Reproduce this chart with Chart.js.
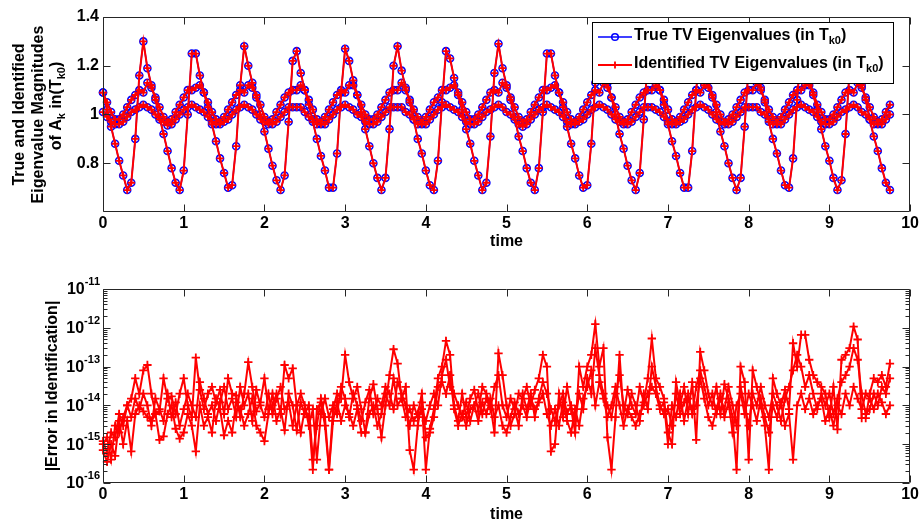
<!DOCTYPE html>
<html><head><meta charset="utf-8">
<script src="https://cdn.jsdelivr.net/npm/chart.js@4.4.0/dist/chart.umd.min.js"></script>
<style>
html,body{margin:0;padding:0;background:#fff;width:921px;height:525px;overflow:hidden;position:relative}
canvas{display:block;position:absolute;left:0}
#c1{top:0}#c2{top:251px}
</style></head>
<body>
<canvas id="c1" width="921" height="251"></canvas>
<canvas id="c2" width="921" height="274"></canvas>
<script>
// ---------- DATA ----------
const time = Array.from({length:196},(_,i)=>+(i*0.05).toFixed(2));
const xTicks = [0,1,2,3,4,5,6,7,8,9,10];
const yTicksTop = [0.8,1,1.2,1.4];
const yTicksBottom = [1e-16,1e-15,1e-14,1e-13,1e-12,1e-11];

// eigenvalue magnitudes (true = identified)
const eigA = [1.09,1.02,0.95,0.88,0.81,0.75,0.69,0.72,0.90,1.16,
1.30,1.19,1.12,1.06,0.99,0.92,0.85,0.78,0.72,0.69,
0.77,1.00,1.25,1.25,1.16,1.09,1.03,0.96,0.89,0.82,
0.76,0.70,0.71,0.87,1.12,1.28,1.20,1.13,1.07,1.00,
0.93,0.86,0.79,0.73,0.69,0.75,0.97,1.22,1.26,1.17,
1.10,1.04,0.97,0.90,0.83,0.77,0.70,0.70,0.84,1.09,
1.27,1.22,1.14,1.08,1.01,0.94,0.87,0.80,0.74,0.69,
0.74,0.94,1.20,1.28,1.18,1.11,1.05,0.98,0.90,0.84,
0.77,0.71,0.69,0.81,1.05,1.26,1.23,1.15,1.08,1.02,
0.94,0.88,0.81,0.75,0.69,0.72,0.91,1.17,1.29,1.19,
1.12,1.06,0.99,0.91,0.85,0.78,0.72,0.69,0.78,1.01,
1.25,1.25,1.16,1.09,1.03,0.95,0.88,0.82,0.75,0.70,
0.71,0.88,1.13,1.29,1.20,1.13,1.07,1.00,0.92,0.86,
0.79,0.73,0.69,0.76,0.98,1.23,1.26,1.17,1.10,1.04,
0.96,0.89,0.83,0.76,0.70,0.70,0.85,1.10,1.28,1.21,
1.14,1.07,1.01,0.93,0.87,0.80,0.74,0.69,0.74,0.95,
1.20,1.27,1.18,1.11,1.05,0.97,0.90,0.84,0.77,0.71,
0.70,0.82,1.06,1.27,1.23,1.15,1.08,1.02,0.94,0.87,
0.81,0.74,0.69,0.73,0.92,1.18,1.29,1.19,1.12,1.06,
0.98,0.91,0.85,0.78,0.72,0.69];
const eigB = [1.09,1.05,1.01,0.98,0.98,1.00,1.03,1.06,1.08,1.10,
1.09,1.13,1.11,1.07,1.03,0.99,0.97,0.98,1.01,1.04,
1.07,1.10,1.10,1.11,1.12,1.09,1.05,1.01,0.98,0.97,
0.99,1.02,1.05,1.08,1.10,1.09,1.12,1.11,1.08,1.04,
0.99,0.97,0.98,1.01,1.04,1.07,1.09,1.10,1.10,1.12,
1.10,1.06,1.02,0.98,0.97,0.99,1.02,1.05,1.08,1.10,
1.09,1.12,1.12,1.08,1.04,1.00,0.98,0.98,1.00,1.03,
1.06,1.09,1.10,1.10,1.13,1.10,1.06,1.02,0.99,0.97,
0.99,1.02,1.05,1.07,1.10,1.10,1.11,1.12,1.09,1.05,
1.01,0.98,0.98,1.00,1.03,1.06,1.09,1.10,1.09,1.13,
1.11,1.07,1.03,0.99,0.97,0.98,1.01,1.04,1.07,1.10,
1.10,1.11,1.12,1.09,1.05,1.01,0.98,0.97,0.99,1.02,
1.05,1.08,1.10,1.09,1.13,1.11,1.07,1.03,0.99,0.97,
0.98,1.01,1.04,1.07,1.09,1.10,1.10,1.12,1.10,1.06,
1.02,0.98,0.97,0.99,1.02,1.05,1.08,1.10,1.09,1.12,
1.11,1.08,1.04,1.00,0.97,0.98,1.00,1.03,1.06,1.09,
1.10,1.10,1.13,1.10,1.06,1.02,0.99,0.97,0.99,1.02,
1.05,1.08,1.10,1.10,1.12,1.12,1.09,1.04,1.01,0.98,
0.98,1.00,1.03,1.06,1.09,1.10,1.09,1.13,1.11,1.07,
1.03,0.99,0.97,0.98,1.01,1.04];
const eigC = [1.01,0.99,0.97,0.96,0.96,0.97,0.99,1.01,1.02,1.03,
1.04,1.03,1.02,1.00,0.98,0.97,0.955,0.96,0.98,1.00,
1.02,1.03,1.04,1.03,1.02,1.01,0.99,0.97,0.96,0.96,
0.97,0.98,1.00,1.02,1.03,1.04,1.03,1.02,1.00,0.98,
0.97,0.96,0.96,0.97,0.99,1.01,1.03,1.03,1.03,1.03,
1.01,0.99,0.98,0.96,0.96,0.96,0.98,1.00,1.02,1.03,
1.04,1.03,1.02,1.00,0.99,0.97,0.96,0.96,0.97,0.99,
1.01,1.03,1.03,1.03,1.03,1.01,1.00,0.98,0.96,0.96,
0.96,0.98,1.00,1.02,1.03,1.04,1.03,1.02,1.01,0.99,
0.97,0.96,0.96,0.97,0.99,1.01,1.02,1.03,1.04,1.03,
1.01,1.00,0.98,0.96,0.95,0.96,0.98,1.00,1.02,1.03,
1.04,1.03,1.02,1.01,0.99,0.97,0.96,0.96,0.97,0.98,
1.00,1.02,1.03,1.04,1.03,1.02,1.00,0.98,0.97,0.96,
0.96,0.97,0.99,1.01,1.03,1.03,1.03,1.02,1.01,0.99,
0.97,0.96,0.96,0.97,0.98,1.00,1.02,1.03,1.04,1.03,
1.02,1.00,0.98,0.97,0.96,0.96,0.97,0.99,1.01,1.03,
1.03,1.03,1.03,1.01,1.00,0.98,0.96,0.96,0.96,0.98,
1.00,1.02,1.03,1.04,1.03,1.02,1.01,0.99,0.97,0.96,
0.96,0.97,0.99,1.01,1.02,1.03,1.04,1.03,1.01,1.00,
0.98,0.96,0.96,0.96,0.98,1.00];

// identification errors
const err1 = [1e-15,1.5e-15,4e-16,3e-15,2e-15,5e-15,1e-14,1.5e-14,5e-14,2e-14,
8e-14,1.1e-13,2e-14,6e-15,7e-15,5e-14,1.5e-14,1.7e-14,6e-15,2e-14,
5e-14,1e-14,5e-15,1.7e-13,2.5e-14,8e-15,2e-14,3e-14,1.2e-14,2.5e-14,
6e-15,5e-14,2e-14,1.8e-14,5e-15,2e-14,1.3e-13,3e-14,7e-15,1.2e-14,
5e-14,8e-15,1e-14,2e-14,6e-15,1.1e-13,5e-14,9e-14,1e-14,2e-15,
8e-15,5e-15,2.2e-16,8e-15,1.2e-14,3e-15,2.2e-16,8e-15,2e-14,1.5e-14,
2e-13,4e-14,1.5e-14,3e-14,8e-15,2e-15,1.5e-14,3.5e-14,8e-15,1.5e-15,
1e-14,6e-14,2.8e-13,1.2e-13,1.5e-14,3e-14,7e-16,2.2e-16,3e-15,1.2e-14,
2.2e-16,2.5e-15,8e-15,5e-14,1e-13,4.6e-13,2e-13,1e-14,4e-15,2e-14,
5e-15,1.5e-14,2.5e-14,7e-15,3e-14,2e-14,1e-14,2e-15,2.2e-13,6e-14,
1e-14,3e-15,6e-15,2e-14,1.5e-14,3e-14,1e-14,2.5e-14,5e-14,2e-13,
1e-13,6.5e-16,1e-15,2e-14,5e-15,3e-14,8e-15,2e-15,1e-13,3e-14,
1e-13,2e-13,1.25e-12,1e-13,3e-13,1.5e-15,2.2e-16,5e-15,2e-13,6e-15,
2.5e-14,1e-14,6e-15,3e-14,1.2e-14,5e-14,5.3e-13,5e-14,3e-14,1.5e-14,
2e-15,1e-15,4e-14,1e-14,3e-14,6e-15,4e-14,1.3e-15,2.4e-13,8e-14,
2e-14,1e-14,3e-14,6e-15,3.5e-14,1.5e-14,5e-15,2.2e-16,1e-13,4e-14,
4e-16,8e-14,3e-14,1e-14,3e-15,2.2e-16,5e-14,2e-14,1e-14,2.5e-14,
8e-15,4e-13,1e-13,6.6e-13,6.6e-13,1.5e-13,6e-14,4e-14,3e-14,2e-14,
5e-15,3e-14,2.4e-15,1.5e-13,2e-13,3e-13,1.07e-12,5e-13,4.7e-15,4.7e-15,
2e-14,5e-14,4e-14,6e-14,3e-14,1.2e-13];
const err2 = [7e-16,3.5e-16,1e-15,5e-16,4e-15,1e-15,4e-15,6.5e-16,6e-15,1e-14,
7e-15,5e-15,4e-15,6e-15,1.3e-15,1.6e-15,6e-15,1e-14,2.5e-15,1.4e-15,
2e-15,6e-15,3e-15,6.5e-16,1e-14,3e-15,5e-15,2e-15,1.5e-14,8e-15,
1.7e-15,4e-15,2e-15,1.2e-14,8e-15,3e-15,6e-15,1.5e-14,3e-15,2e-15,
1.2e-15,6e-15,2e-14,4e-15,8e-15,2.3e-15,2e-14,1e-14,2.3e-15,1.2e-14,
6e-15,1e-14,4e-16,3e-15,1.5e-14,5e-15,2.2e-16,4e-15,1.2e-14,4e-15,
1e-14,6e-15,3e-15,8e-15,2e-15,2e-15,6e-15,1e-14,3e-15,6e-15,
2e-14,1e-14,5e-14,1e-14,1.5e-14,5e-15,8e-15,4e-15,6e-15,2e-14,
1.5e-15,2e-15,5e-15,3e-14,4e-14,2e-14,6e-14,8e-15,3e-15,6e-15,
3e-15,8e-15,1e-14,4e-15,1.2e-14,6e-15,1.5e-14,5e-15,1e-14,3e-15,
2e-15,5e-15,1.2e-14,6e-15,1e-14,5e-15,1.5e-14,8e-15,1.2e-14,2e-14,
6e-15,3e-15,8e-15,3e-15,1.2e-14,4e-15,2e-15,8e-15,3e-15,1.5e-14,
3e-14,8e-14,1e-14,4e-14,1.5e-14,5e-15,1e-14,3e-14,1e-14,3e-15,
8e-15,5e-15,3e-15,6e-15,1e-14,2e-14,3e-14,2e-14,8e-15,1.2e-14,
1e-15,1e-14,5e-15,2e-14,4e-15,1.5e-14,8e-15,1e-14,5e-14,1.5e-14,
5e-15,3e-15,8e-15,2e-14,5e-15,1.2e-14,2e-15,1e-14,2e-14,6e-15,
2e-14,1e-14,4e-15,1.5e-14,5e-15,2e-15,1e-14,5e-15,1.2e-14,3e-15,
6e-15,4e-16,1e-14,2e-14,8e-15,1.5e-14,6e-15,1e-14,1.5e-14,4e-15,
8e-15,3e-15,1e-14,6e-15,2e-14,1e-14,3e-14,1.5e-14,8e-15,2e-14,
1.5e-14,8e-15,2e-14,1.2e-14,6e-15,1e-14];
const err3 = [1.2e-15,6e-16,2e-15,1.5e-15,6e-15,3e-15,1e-14,5e-15,1.5e-14,8e-15,
2e-14,1e-14,3e-15,1.5e-14,8e-15,4e-15,2e-14,5e-15,1.2e-14,3e-15,
8e-15,2e-14,1e-14,5e-15,4e-14,1.5e-14,6e-15,1e-14,4e-15,1.2e-14,
3e-14,8e-15,1.5e-14,5e-15,3e-14,1e-14,2e-14,4e-15,2.5e-14,1e-14,
5e-15,2e-14,6e-15,1.5e-14,3e-14,8e-15,1.2e-14,3e-15,1e-14,2e-14,
1e-14,3e-15,8e-15,4e-16,6e-15,1.5e-14,5e-15,1e-14,6e-15,3e-14,
1.5e-14,5e-15,2e-14,1e-14,4e-15,1.2e-14,2.5e-14,6e-15,1.5e-14,1e-14,
3e-14,2e-14,8e-15,4e-14,2e-14,1e-14,3e-15,1e-14,5e-15,8e-15,
4e-15,1e-14,2e-14,1e-14,6e-14,1.5e-13,3e-14,2e-14,1e-14,5e-15,
1.2e-14,4e-15,1e-14,2e-14,6e-15,1.5e-14,8e-15,3e-14,6e-14,1e-14,
5e-15,1.5e-14,8e-15,3e-15,2e-14,8e-15,2e-14,5e-15,1.5e-14,4e-14,
2e-14,8e-15,4e-15,1e-14,2e-14,6e-15,1e-14,4e-15,2e-14,8e-15,
5e-14,2e-14,3e-13,6e-14,2e-14,1e-14,5e-15,2e-14,6e-14,1e-14,
6e-15,2e-14,1e-14,4e-15,2e-14,8e-15,1e-13,3e-14,1e-14,6e-15,
8e-15,3e-15,2e-14,6e-15,1.2e-14,2e-14,6e-15,3e-14,8e-14,3e-14,
1e-14,2e-14,6e-15,1.5e-14,8e-15,3e-14,1e-14,3e-15,3e-14,1e-14,
3e-15,2e-14,1e-14,3e-14,1e-14,5e-15,2e-14,1e-14,4e-15,1.5e-14,
3e-14,8e-14,2e-13,1e-13,3e-14,6e-14,2e-14,8e-15,2e-14,1e-14,
2e-14,6e-15,1.5e-14,4e-14,6e-14,1e-13,3e-13,1.5e-13,2e-14,6e-15,
8e-15,2e-14,1e-14,3e-14,2e-14,5e-14];

// ---------- STYLE ----------
const FONT = "'Liberation Sans', Arial, sans-serif";
Chart.defaults.font.family = FONT;
Chart.defaults.font.size = 16;
Chart.defaults.font.weight = 'bold';
Chart.defaults.color = '#000';
const RED = 'rgb(255,0,0)', BLUE = 'rgb(0,0,255)';

const pts = arr => arr.map((v,i)=>({x:time[i], y:v}));
const redSet = (arr, lw, r) => ({data:pts(arr), borderColor:RED, borderWidth:lw, pointStyle:'cross',
  pointRadius:r, pointBorderWidth:1.8, pointBorderColor:RED, pointBackgroundColor:RED, tension:0, clip:false});
const blueSet = arr => ({data:pts(arr), borderColor:BLUE, borderWidth:1.5, pointStyle:'circle',
  pointRadius:3.5, pointBorderWidth:1.6, pointBorderColor:BLUE, pointBackgroundColor:'rgba(0,0,0,0)', tension:0, clip:false});

const frame = {
  id:'frame',
  afterDatasetsDraw(chart, args, opts){
    const {ctx, chartArea:a} = chart; const xs = chart.scales.x, ys = chart.scales.y;
    const L=Math.round(a.left)+0.5, R=Math.round(a.right)-0.5, T=Math.round(a.top)+0.5, B=Math.round(a.bottom)-0.5;
    ctx.save(); ctx.strokeStyle='#262626'; ctx.lineWidth=1; ctx.beginPath();
    ctx.rect(L,T,R-L,B-T);
    xs.ticks.forEach(t=>{const p=Math.round(xs.getPixelForValue(t.value))+0.5;
      ctx.moveTo(p,B); ctx.lineTo(p,B-7); ctx.moveTo(p,T); ctx.lineTo(p,T+7);});
    ys.ticks.forEach(t=>{const p=Math.round(ys.getPixelForValue(t.value))+0.5;
      ctx.moveTo(L,p); ctx.lineTo(L+7,p); ctx.moveTo(R,p); ctx.lineTo(R-7,p);});
    if (opts && opts.minor){
      for (let d=-16; d<-11; d++) for (let m=2; m<=9; m++){
        const p=Math.round(ys.getPixelForValue(m*Math.pow(10,d)))+0.5;
        ctx.moveTo(L,p); ctx.lineTo(L+4,p); ctx.moveTo(R,p); ctx.lineTo(R-4,p);
      }
    }
    ctx.stroke(); ctx.restore();
  }
};

function rich(ctx, parts, x, y, align){
  let total=0;
  parts.forEach(p=>{ctx.font='bold '+p.s+'px '+FONT; p.w=ctx.measureText(p.t).width; total+=p.w;});
  let cx = align==='center' ? x-total/2 : x;
  ctx.textAlign='left'; ctx.textBaseline='middle';
  parts.forEach(p=>{ctx.font='bold '+p.s+'px '+FONT; ctx.fillText(p.t, cx, y+(p.dy||0)); cx+=p.w;});
}

const topDeco = {
  id:'topDeco',
  afterDraw(chart){
    const ctx = chart.ctx; ctx.save(); ctx.fillStyle='#000';
    const lines = [
      {x:20, y:114.5, parts:[{t:'True and Identified', s:16}]},
      {x:39, y:114.5, parts:[{t:'Eigenvalue Magnitudes', s:16}]},
      {x:57, y:106, parts:[{t:'of A', s:16},{t:'k', s:11, dy:5},{t:' in(T', s:16},{t:'k0', s:11, dy:5},{t:')', s:16}]}
    ];
    lines.forEach(l=>{ctx.save(); ctx.translate(l.x,l.y); ctx.rotate(-Math.PI/2); rich(ctx,l.parts,0,0,'center'); ctx.restore();});
    const bx=592, by=22, bw=301, bh=61;
    ctx.fillStyle='#fff'; ctx.fillRect(bx,by,bw,bh);
    ctx.strokeStyle='#000'; ctx.lineWidth=1; ctx.strokeRect(bx+0.5,by+0.5,bw,bh);
    ctx.strokeStyle=BLUE; ctx.lineWidth=1.5; ctx.beginPath(); ctx.moveTo(598,37); ctx.lineTo(632,37); ctx.stroke();
    ctx.beginPath(); ctx.arc(615,37,3.3,0,Math.PI*2); ctx.stroke();
    ctx.strokeStyle=RED; ctx.lineWidth=1.8; ctx.beginPath(); ctx.moveTo(598,65); ctx.lineTo(632,65);
    ctx.moveTo(615,61.4); ctx.lineTo(615,68.6); ctx.stroke();
    ctx.fillStyle='#000';
    rich(ctx,[{t:'True TV Eigenvalues (in T',s:16},{t:'k0',s:11,dy:5},{t:')',s:16}],634,36,'left');
    rich(ctx,[{t:'Identified TV Eigenvalues (in T',s:16},{t:'k0',s:11,dy:5},{t:')',s:16}],634,64,'left');
    ctx.restore();
  }
};

const bottomDeco = {
  id:'bottomDeco',
  afterDraw(chart){
    const ctx = chart.ctx, ys = chart.scales.y; ctx.save(); ctx.fillStyle='#000';
    ys.ticks.forEach(t=>{
      const p = ys.getPixelForValue(t.value);
      const exp = String(Math.round(Math.log10(t.value)));
      ctx.font='bold 11px '+FONT; const ws = ctx.measureText(exp).width;
      ctx.font='bold 16px '+FONT; const wb = ctx.measureText('10').width;
      ctx.textBaseline='middle'; ctx.textAlign='left';
      ctx.fillText('10', 100-ws-wb, p+1);
      ctx.font='bold 11px '+FONT; ctx.fillText(exp, 100-ws, p-7);
    });
    ctx.restore();
  }
};

const xScale = (h) => ({
  type:'linear', min:0, max:10,
  grid:{display:false, drawTicks:false}, border:{display:false},
  ticks:{padding:2, maxRotation:0, autoSkip:false, font:{size:16, weight:'bold'}},
  afterBuildTicks: s=>{ s.ticks = xTicks.map(v=>({value:v})); },
  afterFit: s=>{ s.height = h; },
  title:{display:true, text:'time', padding:{top:0,bottom:0}, font:{size:16, weight:'bold'}}
});

new Chart(document.getElementById('c1'), {
  type:'line',
  data:{datasets:[redSet(eigA,2,3.6), redSet(eigB,2,3.6), redSet(eigC,2,3.6), blueSet(eigA), blueSet(eigB), blueSet(eigC)]},
  options:{
    responsive:false, animation:false, devicePixelRatio:1,
    layout:{padding:{left:0, right:10, top:17, bottom:0}},
    plugins:{legend:{display:false}, tooltip:{enabled:false}},
    scales:{
      x: xScale(39),
      y:{type:'linear', min:0.6, max:1.4,
         grid:{display:false, drawTicks:false}, border:{display:false},
         ticks:{padding:4, font:{size:16, weight:'bold'}, callback:v=>String(+v.toFixed(2))},
         afterBuildTicks: s=>{ s.ticks = yTicksTop.map(v=>({value:v})); },
         afterFit: s=>{ s.width = 103; }}
    }
  },
  plugins:[frame, topDeco]
});

new Chart(document.getElementById('c2'), {
  type:'line',
  data:{datasets:[redSet(err1,2,4.2), redSet(err2,2,4.2), redSet(err3,2,4.2)]},
  options:{
    responsive:false, animation:false, devicePixelRatio:1,
    layout:{padding:{left:0, right:10, top:38, bottom:1}},
    plugins:{legend:{display:false}, tooltip:{enabled:false}, frame:{minor:true}},
    scales:{
      x: xScale(41),
      y:{type:'logarithmic', min:1e-16, max:1e-11,
         grid:{display:false, drawTicks:false}, border:{display:false},
         ticks:{display:false},
         afterBuildTicks: s=>{ s.ticks = yTicksBottom.map(v=>({value:v})); },
         afterFit: s=>{ s.width = 103; },
         title:{display:true, text:'|Error in Identification|', padding:{top:43, bottom:0}, font:{size:16, weight:'bold'}}}
    }
  },
  plugins:[frame, bottomDeco]
});
</script>
</body></html>
